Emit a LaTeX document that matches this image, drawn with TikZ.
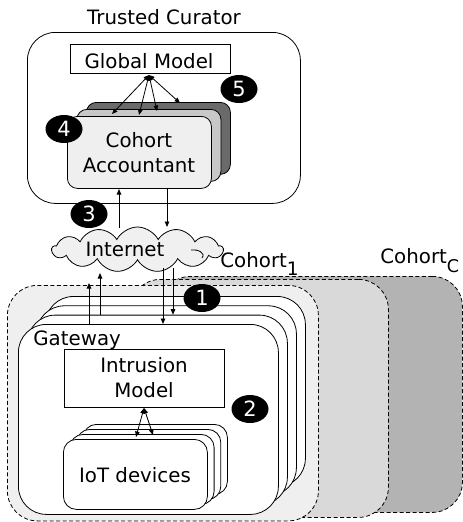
\documentclass[tikz,border=0pt]{standalone}
\usepackage{fontspec}
\setmainfont{DejaVu Sans}
\usetikzlibrary{shapes.symbols,shapes.geometric,arrows.meta}
\definecolor{cfront}{HTML}{EFEFEF}
\definecolor{cmid}{HTML}{D9D9D9}
\definecolor{cback}{HTML}{B3B3B3}
\definecolor{accmid}{HTML}{C8C8C8}
\definecolor{accback}{HTML}{6A6A6A}
\definecolor{cloudfill}{HTML}{F0F0F0}
\begin{document}
\begin{tikzpicture}[x=1pt,y=-1pt,
  font=\fontsize{19.8}{25}\selectfont,
  line width=0.8pt,
  tip/.style={-{Triangle[length=5.5pt,width=4.5pt]}},
  bitip/.style={{Triangle[length=5.5pt,width=4.5pt]}-{Triangle[length=5.5pt,width=4.5pt]}},
  cohortbox/.style={draw, dash pattern=on 4pt off 2.5pt, rounded corners=30pt, anchor=north west, inner sep=0pt},
  gwbox/.style={draw, fill=white, rounded corners=28pt, anchor=north west, inner sep=0pt, minimum width=260pt, minimum height=190pt},
  iotbox/.style={draw, fill=white, rounded corners=13pt, anchor=north west, inner sep=0pt, minimum width=144pt, minimum height=70pt},
  accbox/.style={draw, rounded corners=10pt, anchor=north west, inner sep=0pt, minimum width=144pt, minimum height=72pt},
  plainbox/.style={draw, fill=white, anchor=north west, inner sep=0pt},
  numdot/.style={ellipse, fill=black, text=white, minimum width=37pt, minimum height=28pt, inner sep=0pt, font=\fontsize{21}{21}\selectfont},
  txt/.style={inner sep=0pt, align=center}
]
\useasboundingbox (0,0) rectangle (463,522);

% cohorts
\node[cohortbox, fill=cback, minimum width=302pt, minimum height=236pt] (cohC) at (160,276) {};
\node[cohortbox, fill=cmid, minimum width=258pt, minimum height=238pt] (cohM) at (130,279) {};
\node[cohortbox, fill=cfront, minimum width=311pt, minimum height=235.5pt] (coh1) at (7,285) {};

% gateways
\node[gwbox] (gw3) at (45,296.1) {};
\node[gwbox] (gw2) at (36,305.4) {};
\node[gwbox] (gw1) at (27,314.7) {};
\node[gwbox] (gw0) at (18,324) {};
\node[txt, anchor=base west] (gwlabel) at (33,345) {Gateway};

% intrusion model
\node[plainbox, minimum width=160pt, minimum height=58pt] (intr) at (64,349) {};
\node[txt] (intrtext) at (144,378) {Intrusion\\Model};

% IoT devices
\node[iotbox] (iot3) at (83,424) {};
\node[iotbox] (iot2) at (76.4,429) {};
\node[iotbox] (iot1) at (69.7,434) {};
\node[iotbox] (iot0) at (63,439) {};
\node[txt] (iottext) at (135,475) {IoT devices};

\coordinate (imtip) at (144,408);
\coordinate (iotA) at (136,437);
\coordinate (iotB) at (153,435);
\draw[bitip] (imtip) -- (iotA);
\draw[bitip] (imtip) -- (iotB);

% trusted curator
\node[draw, rounded corners=28pt, anchor=north west, inner sep=0pt, minimum width=273pt, minimum height=171pt] (cur) at (27,32) {};
\node[txt, anchor=base] (curlabel) at (164,24) {Trusted Curator};
\node[plainbox, minimum width=160pt, minimum height=29pt] (gm) at (70,44) {};
\node[txt, anchor=base] (gmtext) at (149,68) {Global Model};

\node[accbox, fill=accback] (acc2) at (86,102) {};
\node[accbox, fill=accmid] (acc1) at (76.5,109) {};
\node[accbox, fill=cfront] (acc0) at (67,116) {};
\node[txt] (acctext) at (139,153) {Cohort\\Accountant};

\coordinate (gmtip) at (149,75);
\coordinate (accA) at (112,114);
\coordinate (accB) at (139,115);
\coordinate (accC) at (157,111);
\coordinate (accD) at (180,103);
\draw[bitip] (gmtip) -- (accA);
\draw[bitip] (gmtip) -- (accB);
\draw[bitip] (gmtip) -- (accC);
\draw[bitip] (gmtip) -- (accD);

% internet cloud
\node[cloud, draw, fill=cloudfill, cloud puffs=13, cloud puff arc=125, cloud ignores aspect, minimum width=171pt, minimum height=45pt, inner sep=0pt] (inet) at (137.5,249.5) {};
\node[txt, anchor=base] (inettext) at (125,256) {Internet};
\coordinate (curlA) at (191,250);
\coordinate (curlB) at (202,258);
\draw (curlA) .. controls (198,249) and (206,253) .. (curlB);

% curator <-> internet
\coordinate (upA0) at (119,228);
\coordinate (upA1) at (119,189);
\coordinate (dnA0) at (167,189);
\coordinate (dnA1) at (167,227);
\draw[tip] (upA0) -- (upA1);
\draw[tip] (dnA0) -- (dnA1);

% internet <-> gateways
\coordinate (upB0) at (89,324);
\coordinate (upB1) at (89,283);
\coordinate (upC0) at (100,314.7);
\coordinate (upC1) at (100,273);
\coordinate (dnB0) at (163,268);
\coordinate (dnB1) at (163,324);
\coordinate (dnC0) at (173,268);
\coordinate (dnC1) at (173,314.7);
\draw[tip] (upB0) -- (upB1);
\draw[tip] (upC0) -- (upC1);
\draw[tip] (dnB0) -- (dnB1);
\draw[tip] (dnC0) -- (dnC1);

% cohort labels
\node[txt, anchor=base west] (c1label) at (220,267) {Cohort\raisebox{-8pt}{\fontsize{18.5}{18.5}\selectfont 1}};
\node[txt, anchor=base west] (cClabel) at (380,263) {Cohort\raisebox{-9pt}{\fontsize{17.5}{17.5}\selectfont C}};

% numbered markers
\node[numdot] (n5) at (239,89) {5};
\node[numdot] (n4) at (64,129) {4};
\node[numdot] (n3) at (89,214) {3};
\node[numdot] (n1) at (202,298) {1};
\node[numdot] (n2) at (250,409) {2};
\end{tikzpicture}
\end{document}
